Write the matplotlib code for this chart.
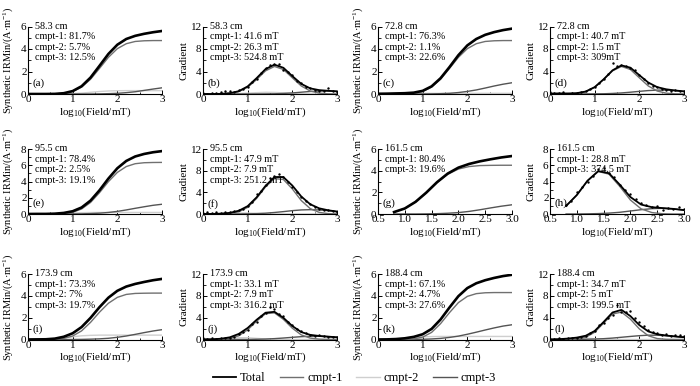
import matplotlib
matplotlib.use("Agg")
import matplotlib.pyplot as plt
from matplotlib.ticker import MultipleLocator
from matplotlib.lines import Line2D

plt.rcParams["font.family"] = ["Liberation Serif", "DejaVu Serif"]
plt.rcParams["mathtext.fontset"] = "custom"
plt.rcParams["mathtext.rm"] = "Liberation Serif"
plt.rcParams["mathtext.it"] = "Liberation Serif:italic"

# model curve grid, log10(Field/mT)
X = [0.0, 0.2, 0.4, 0.6, 0.8, 1.0, 1.2, 1.4, 1.6, 1.8, 2.0, 2.2, 2.4, 2.6, 2.8, 3.0]
XG = [0.8, 1.0, 1.2, 1.4, 1.6, 1.8, 2.0, 2.2, 2.4, 2.6, 2.8, 3.0]
# measured field steps for the gradient data
PX = [0.0, 0.1, 0.2, 0.3, 0.4, 0.5, 0.6, 0.7, 0.8, 0.9, 1.0, 1.1, 1.2, 1.3, 1.4, 1.5,
      1.6, 1.7, 1.8, 1.9, 2.0, 2.1, 2.2, 2.3, 2.4, 2.5, 2.6, 2.7, 2.8, 2.9, 3.0]
PXG = PX[8:]

# 58.3 cm
A_IRM_TOT = [0, 0, 0, 0.01, 0.07, 0.26, 0.69, 1.46, 2.50, 3.56, 4.38, 4.89, 5.17, 5.35, 5.49, 5.60]
A_IRM_C1 = [0, 0, 0, 0.01, 0.06, 0.22, 0.61, 1.31, 2.27, 3.26, 4.03, 4.47, 4.67, 4.73, 4.75, 4.75]
A_IRM_C2 = [0, 0, 0, 0, 0.01, 0.04, 0.08, 0.15, 0.22, 0.27, 0.29, 0.30, 0.30, 0.30, 0.30, 0.30]
A_IRM_C3 = [0, 0, 0, 0, 0, 0, 0, 0, 0.01, 0.03, 0.06, 0.12, 0.20, 0.32, 0.44, 0.55]
A_GRD_TOT = [0, 0, 0.03, 0.14, 0.50, 1.35, 2.82, 4.43, 5.22, 4.66, 3.18, 1.80, 1.00, 0.69, 0.57, 0.47]
A_GRD_C1 = [0, 0, 0.02, 0.11, 0.42, 1.20, 2.57, 4.11, 4.90, 4.36, 2.88, 1.43, 0.53, 0.15, 0.03, 0]
A_GRD_C2 = [0, 0, 0.01, 0.03, 0.08, 0.15, 0.24, 0.30, 0.28, 0.20, 0.11, 0.05, 0.02, 0.01, 0, 0]
A_GRD_C3 = [0, 0, 0, 0, 0, 0, 0.01, 0.02, 0.04, 0.10, 0.19, 0.32, 0.45, 0.53, 0.54, 0.47]
A_PTS = [0.1, 0.05, 0.2, 0.1, 0.3, 0.45, 0.5, 0.4, 0.7, 0.9, 1.3, 2.1, 2.6, 3.7, 4.6, 5.1,
         5.4, 5.3, 4.2, 4.0, 3.3, 2.3, 1.9, 1.2, 1.1, 0.7, 0.6, 0.5, 1.0, 0.6, 0.4]

# 72.8 cm
C_IRM_TOT = [0.02, 0.03, 0.05, 0.07, 0.12, 0.28, 0.68, 1.40, 2.39, 3.45, 4.32, 4.89, 5.26, 5.50, 5.68, 5.81]
C_IRM_C1 = [0, 0, 0, 0.01, 0.06, 0.22, 0.61, 1.31, 2.27, 3.26, 4.03, 4.47, 4.67, 4.73, 4.75, 4.75]
C_IRM_C2 = [0.02, 0.03, 0.05, 0.06, 0.06, 0.06, 0.06, 0.06, 0.06, 0.06, 0.06, 0.06, 0.06, 0.06, 0.06, 0.06]
C_IRM_C3 = [0, 0, 0, 0, 0, 0, 0.01, 0.03, 0.06, 0.13, 0.23, 0.36, 0.53, 0.71, 0.87, 1.00]
C_GRD_TOT = [0.08, 0.10, 0.10, 0.15, 0.44, 1.22, 2.61, 4.21, 5.09, 4.68, 3.35, 2.04, 1.22, 0.84, 0.63, 0.46]
C_GRD_C1 = [0, 0, 0.02, 0.11, 0.42, 1.20, 2.57, 4.11, 4.90, 4.36, 2.88, 1.43, 0.53, 0.15, 0.03, 0]
C_GRD_C2 = [0.08, 0.10, 0.08, 0.04, 0.01, 0, 0, 0, 0, 0, 0, 0, 0, 0, 0, 0]
C_GRD_C3 = [0, 0, 0, 0, 0.01, 0.02, 0.04, 0.10, 0.19, 0.32, 0.47, 0.61, 0.69, 0.69, 0.60, 0.46]
C_PTS = [0.3, 0.2, 0.1, 0.3, -0.1, 0.2, 0.2, 0.3, 0.5, 0.9, 1.3, 1.9, 2.6, 3.5, 5.6, 4.9,
         5.2, 5.0, 4.6, 4.3, 3.3, 2.6, 2.0, 1.4, 1.2, 0.9, 0.8, 0.6, 0.7, 0.5, 0.6]

# 95.5 cm
E_IRM_TOT = [0, 0.01, 0.01, 0.04, 0.13, 0.34, 0.80, 1.65, 2.91, 4.36, 5.63, 6.53, 7.08, 7.39, 7.60, 7.74]
E_IRM_C1 = [0, 0, 0, 0.01, 0.06, 0.21, 0.62, 1.42, 2.62, 3.98, 5.12, 5.84, 6.19, 6.31, 6.34, 6.35]
E_IRM_C2 = [0, 0.01, 0.01, 0.03, 0.07, 0.12, 0.16, 0.18, 0.19, 0.19, 0.19, 0.19, 0.19, 0.19, 0.19, 0.19]
E_IRM_C3 = [0, 0, 0, 0, 0, 0.01, 0.02, 0.05, 0.10, 0.19, 0.32, 0.50, 0.70, 0.89, 1.07, 1.20]
E_GRD_TOT = [0, 0.01, 0.07, 0.21, 0.60, 1.45, 3.07, 5.20, 6.83, 6.81, 5.25, 3.23, 1.80, 1.05, 0.69, 0.45]
E_GRD_C1 = [0, 0, 0.02, 0.09, 0.40, 1.23, 2.88, 5.00, 6.54, 6.37, 4.63, 2.48, 1.00, 0.30, 0.07, 0.01]
E_GRD_C2 = [0, 0.01, 0.05, 0.12, 0.19, 0.19, 0.12, 0.05, 0.01, 0, 0, 0, 0, 0, 0, 0]
E_GRD_C3 = [0, 0, 0, 0, 0.01, 0.03, 0.07, 0.15, 0.28, 0.44, 0.62, 0.75, 0.80, 0.75, 0.62, 0.44]
E_PTS = [0.1, 0.3, 0.2, 0.3, 0.2, 0.3, 0.3, 0.5, 0.7, 1.0, 1.5, 2.2, 3.7, 4.2, 5.3, 6.6,
         7.0, 7.4, 6.9, 6.0, 5.0, 4.1, 3.2, 2.4, 1.8, 1.3, 1.0, 0.8, 0.7, 0.5, 0.4]

# 161.5 cm (no cmpt-2)
G_IRM_TOT = [0.18, 0.51, 1.12, 1.97, 2.93, 3.73, 4.28, 4.62, 4.86, 5.05, 5.22, 5.35]
G_IRM_C1 = [0.18, 0.51, 1.12, 1.96, 2.90, 3.66, 4.15, 4.38, 4.47, 4.49, 4.50, 4.50]
G_IRM_C3 = [0, 0, 0, 0.01, 0.03, 0.07, 0.13, 0.24, 0.39, 0.56, 0.72, 0.85]
G_GRD_TOT = [0.99, 2.33, 4.10, 5.28, 5.02, 3.62, 2.09, 1.16, 0.84, 0.73, 0.63, 0.48]
G_GRD_C1 = [0.99, 2.33, 4.08, 5.23, 4.91, 3.41, 1.72, 0.63, 0.18, 0.03, 0, 0]
G_GRD_C3 = [0, 0, 0.02, 0.05, 0.11, 0.21, 0.37, 0.53, 0.66, 0.70, 0.63, 0.48]
G_PTS = [1.1, 1.6, 2.7, 3.3, 4.0, 4.7, 5.6, 5.7, 5.0, 4.6, 3.6, 3.0, 2.5, 1.9, 1.4, 1.1,
         0.9, 1.0, 0.5, 0.8, 0.6, 0.9, 0.6]

# 173.9 cm
I_IRM_TOT = [0, 0.01, 0.02, 0.08, 0.25, 0.57, 1.14, 1.98, 2.96, 3.83, 4.46, 4.85, 5.09, 5.27, 5.43, 5.55]
I_IRM_C1 = [0, 0, 0, 0.02, 0.10, 0.32, 0.79, 1.57, 2.50, 3.32, 3.86, 4.13, 4.22, 4.24, 4.25, 4.25]
I_IRM_C2 = [0, 0.01, 0.02, 0.06, 0.15, 0.25, 0.34, 0.38, 0.40, 0.40, 0.40, 0.40, 0.40, 0.40, 0.40, 0.40]
I_IRM_C3 = [0, 0, 0, 0, 0, 0, 0.01, 0.03, 0.06, 0.11, 0.20, 0.32, 0.47, 0.63, 0.78, 0.90]
I_GRD_TOT = [0.01, 0.04, 0.14, 0.40, 1.02, 2.11, 3.61, 4.91, 5.07, 3.97, 2.47, 1.36, 0.85, 0.65, 0.53, 0.40]
I_GRD_C1 = [0, 0.01, 0.04, 0.19, 0.68, 1.77, 3.36, 4.73, 4.88, 3.69, 2.07, 0.84, 0.26, 0.06, 0.01, 0]
I_GRD_C2 = [0.01, 0.03, 0.10, 0.21, 0.33, 0.33, 0.21, 0.10, 0.03, 0.01, 0, 0, 0, 0, 0, 0]
I_GRD_C3 = [0, 0, 0, 0, 0.01, 0.01, 0.04, 0.08, 0.16, 0.27, 0.40, 0.52, 0.59, 0.59, 0.52, 0.40]
I_PTS = [0.2, 0.1, 0.2, 0.1, 0.2, 0.3, 0.3, 0.5, 1.0, 1.4, 1.8, 2.9, 3.2, 4.3, 4.8, 6.0,
         5.5, 4.7, 4.3, 3.2, 2.6, 2.0, 1.5, 1.1, 0.9, 0.7, 0.8, 0.6, 0.5, 0.5, 0.4]

# 188.4 cm
K_IRM_TOT = [0, 0.01, 0.04, 0.11, 0.24, 0.48, 0.97, 1.83, 2.93, 3.97, 4.71, 5.15, 5.43, 5.64, 5.81, 5.93]
K_IRM_C1 = [0, 0, 0, 0.01, 0.05, 0.22, 0.65, 1.45, 2.46, 3.38, 3.95, 4.20, 4.28, 4.30, 4.30, 4.30]
K_IRM_C2 = [0, 0.01, 0.04, 0.10, 0.18, 0.24, 0.27, 0.28, 0.28, 0.28, 0.28, 0.28, 0.28, 0.28, 0.28, 0.28]
K_IRM_C3 = [0, 0, 0, 0, 0.01, 0.02, 0.05, 0.10, 0.19, 0.31, 0.48, 0.67, 0.87, 1.06, 1.23, 1.35]
K_GRD_TOT = [0.01, 0.06, 0.17, 0.35, 0.69, 1.56, 3.21, 4.95, 5.43, 4.29, 2.64, 1.48, 0.96, 0.73, 0.56, 0.41]
K_GRD_C1 = [0, 0, 0.01, 0.09, 0.41, 1.33, 3.00, 4.67, 5.02, 3.73, 1.94, 0.69, 0.17, 0.03, 0, 0]
K_GRD_C2 = [0.01, 0.06, 0.15, 0.24, 0.24, 0.15, 0.06, 0.02, 0, 0, 0, 0, 0, 0, 0, 0]
K_GRD_C3 = [0, 0, 0.01, 0.02, 0.04, 0.08, 0.15, 0.26, 0.41, 0.56, 0.70, 0.79, 0.79, 0.70, 0.56, 0.41]
K_PTS = [0.1, 0.1, 0.2, 0.1, 0.2, 0.3, 0.3, 0.5, 0.7, 1.1, 1.5, 2.6, 3.0, 4.0, 4.5, 6.3,
         5.0, 5.1, 5.3, 4.0, 3.2, 2.4, 1.7, 1.4, 1.2, 0.9, 1.0, 0.6, 0.9, 0.8, 0.6]

TXT_A = ["58.3 cm", "cmpt-1: 81.7%", "cmpt-2: 5.7%", "cmpt-3: 12.5%"]
TXT_B = ["58.3 cm", "cmpt-1: 41.6 mT", "cmpt-2: 26.3 mT", "cmpt-3: 524.8 mT"]
TXT_C = ["72.8 cm", "cmpt-1: 76.3%", "cmpt-2: 1.1%", "cmpt-3: 22.6%"]
TXT_D = ["72.8 cm", "cmpt-1: 40.7 mT", "cmpt-2: 1.5 mT", "cmpt-3: 309mT"]
TXT_E = ["95.5 cm", "cmpt-1: 78.4%", "cmpt-2: 2.5%", "cmpt-3: 19.1%"]
TXT_F = ["95.5 cm", "cmpt-1: 47.9 mT", "cmpt-2: 7.9 mT", "cmpt-3: 251.2 mT"]
TXT_G = ["161.5 cm", "cmpt-1: 80.4%", "cmpt-3: 19.6%"]
TXT_H = ["161.5 cm", "cmpt-1: 28.8 mT", "cmpt-3: 374.5 mT"]
TXT_I = ["173.9 cm", "cmpt-1: 73.3%", "cmpt-2: 7%", "cmpt-3: 19.7%"]
TXT_J = ["173.9 cm", "cmpt-1: 33.1 mT", "cmpt-2: 7.9 mT", "cmpt-3: 316.2 mT"]
TXT_K = ["188.4 cm", "cmpt-1: 67.1%", "cmpt-2: 4.7%", "cmpt-3: 27.6%"]
TXT_L = ["188.4 cm", "cmpt-1: 34.7 mT", "cmpt-2: 5 mT", "cmpt-3: 199.5 mT"]

C_TOT, C_1, C_2, C_3 = "#000000", "#707070", "#cfcfcf", "#545454"

# (row, col, kind, x, total, c1, c2, c3, pts_x, pts_y, text, label)
panels = [
    (0, 0, "irm", X, A_IRM_TOT, A_IRM_C1, A_IRM_C2, A_IRM_C3, None, None, TXT_A, "(a)"),
    (0, 1, "grd", X, A_GRD_TOT, A_GRD_C1, A_GRD_C2, A_GRD_C3, PX, A_PTS, TXT_B, "(b)"),
    (0, 2, "irm", X, C_IRM_TOT, C_IRM_C1, C_IRM_C2, C_IRM_C3, None, None, TXT_C, "(c)"),
    (0, 3, "grd", X, C_GRD_TOT, C_GRD_C1, C_GRD_C2, C_GRD_C3, PX, C_PTS, TXT_D, "(d)"),
    (1, 0, "irm", X, E_IRM_TOT, E_IRM_C1, E_IRM_C2, E_IRM_C3, None, None, TXT_E, "(e)"),
    (1, 1, "grd", X, E_GRD_TOT, E_GRD_C1, E_GRD_C2, E_GRD_C3, PX, E_PTS, TXT_F, "(f)"),
    (1, 2, "irm", XG, G_IRM_TOT, G_IRM_C1, None, G_IRM_C3, None, None, TXT_G, "(g)"),
    (1, 3, "grd", XG, G_GRD_TOT, G_GRD_C1, None, G_GRD_C3, PXG, G_PTS, TXT_H, "(h)"),
    (2, 0, "irm", X, I_IRM_TOT, I_IRM_C1, I_IRM_C2, I_IRM_C3, None, None, TXT_I, "(i)"),
    (2, 1, "grd", X, I_GRD_TOT, I_GRD_C1, I_GRD_C2, I_GRD_C3, PX, I_PTS, TXT_J, "(j)"),
    (2, 2, "irm", X, K_IRM_TOT, K_IRM_C1, K_IRM_C2, K_IRM_C3, None, None, TXT_K, "(k)"),
    (2, 3, "grd", X, K_GRD_TOT, K_GRD_C1, K_GRD_C2, K_GRD_C3, PX, K_PTS, TXT_L, "(l)"),
]

W, H = 700, 386
COLS = [(28, 162), (203, 337), (378, 512), (550, 684)]
ROWS = [(26.5, 94), (149, 214), (274, 339.5)]

fig = plt.figure(figsize=(7, 3.86), dpi=100)

for r, c, kind, x, tot, c1, c2, c3, px, py, txt, lab in panels:
    x0, x1 = COLS[c]
    y0, y1 = ROWS[r]
    ax = fig.add_axes([x0 / W, 1 - y1 / H, (x1 - x0) / W, (y1 - y0) / H])
    if c2 is not None:
        ax.plot(x, c2, color=C_2, lw=1.0)
    ax.plot(x, c3, color=C_3, lw=1.0)
    ax.plot(x, c1, color=C_1, lw=1.0)
    if kind == "irm":
        # dense measured points sit on the fit, drawn as a heavy trace
        ax.plot(x, tot, color=C_TOT, lw=1.9)
    else:
        ax.plot(x, tot, color=C_TOT, lw=1.3)
        ax.scatter(px, py, s=3, color="k", linewidths=0, zorder=5)

    if x is XG:
        ax.set_xlim(0.5, 3.0)
        ax.xaxis.set_major_locator(MultipleLocator(0.5))
        ax.xaxis.set_major_formatter(plt.FormatStrFormatter("%.1f"))
    else:
        ax.set_xlim(0, 3)
        ax.xaxis.set_major_locator(MultipleLocator(1))
        ax.xaxis.set_minor_locator(MultipleLocator(0.5))

    if kind == "irm":
        top = 8 if r == 1 and c == 0 else 6
        ax.set_ylim(0, top)
        ax.yaxis.set_major_locator(MultipleLocator(2))
        ax.yaxis.set_minor_locator(MultipleLocator(1))
        ax.set_ylabel("Synthetic IRMin/(A·m$^{-1}$)", fontsize=7.5)
        ax.yaxis.set_label_coords(-0.1, 0.5)
    else:
        if x is XG:
            ax.set_ylim(0, 8)
            ax.yaxis.set_major_locator(MultipleLocator(2))
            ax.yaxis.set_minor_locator(MultipleLocator(1))
        else:
            ax.set_ylim(0, 12)
            ax.yaxis.set_major_locator(MultipleLocator(4))
            ax.yaxis.set_minor_locator(MultipleLocator(2))
        ax.set_ylabel("Gradient", fontsize=8)
        ax.yaxis.set_label_coords(-0.105, 0.5)

    ax.set_xlabel("log$_{10}$(Field/mT)", fontsize=8, labelpad=0.5)
    for s in ("top", "right"):
        ax.spines[s].set_visible(False)
    for s in ("left", "bottom"):
        ax.spines[s].set_linewidth(0.8)
    ax.tick_params(direction="in", length=3, width=0.7, labelsize=8, pad=1)
    ax.tick_params(which="minor", direction="in", length=1.8, width=0.6)

    ax.text(0.05, 1.07, "\n".join(txt), transform=ax.transAxes, va="top", ha="left",
            fontsize=7.3, linespacing=1.2)
    ax.text(0.03, 0.16, lab, transform=ax.transAxes, va="center", ha="left", fontsize=8)

handles = [Line2D([], [], color=C_TOT, lw=1.3), Line2D([], [], color=C_1, lw=1.0),
           Line2D([], [], color=C_2, lw=1.0), Line2D([], [], color=C_3, lw=1.0)]
fig.legend(handles, ["Total", "cmpt-1", "cmpt-2", "cmpt-3"], loc="center",
           bbox_to_anchor=(0.506, 0.021), ncol=4, frameon=False, fontsize=9,
           handlelength=1.9, handletextpad=0.3, columnspacing=1.1)

fig.savefig("out.png", dpi=100)
